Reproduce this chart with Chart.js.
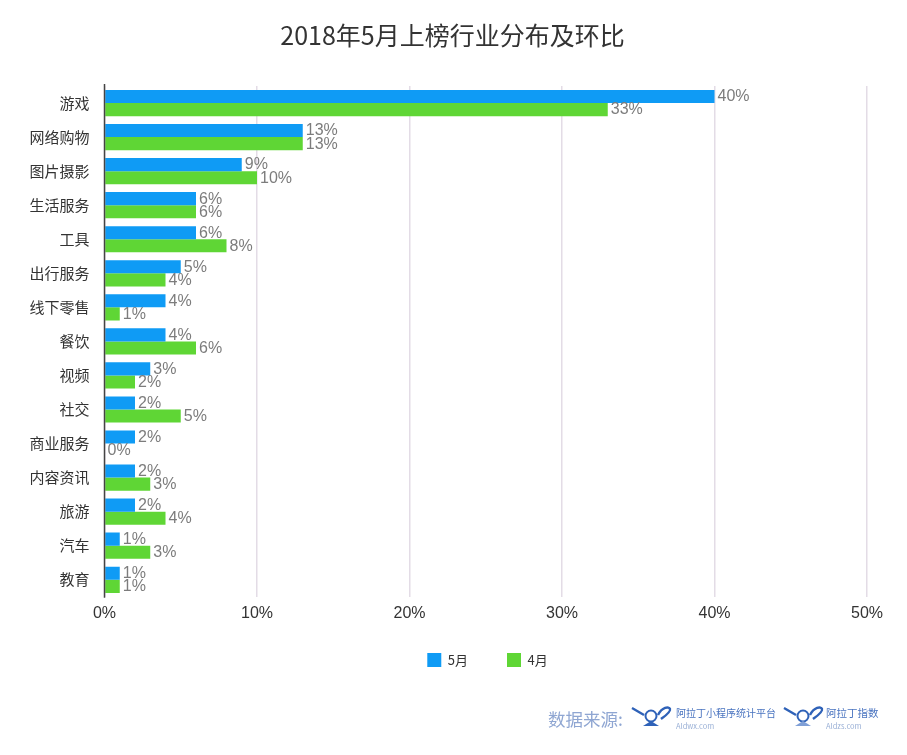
<!DOCTYPE html>
<html>
<head>
<meta charset="utf-8">
<script src="https://cdn.jsdelivr.net/npm/chart.js@4"></script>
<style>
  html, body { margin: 0; padding: 0; background: #fff; }
  #wrap { position: relative; width: 907px; height: 755px; overflow: hidden; }
  .src { position: absolute; font-family: "Noto Sans CJK SC", sans-serif; color: #5f82c4; white-space: nowrap; line-height: 1; }
  .logo { position: absolute; }
</style>
</head>
<body>
<div id="wrap">
  <canvas id="industryChart" width="907" height="755"></canvas>
  <div class="src" style="left:548px;top:710px;font-size:17.5px;color:#8fa6d2;">数据来源:</div>
  <svg class="logo" style="left:631px;top:703px;" width="42" height="26" viewBox="0 0 42 26"><path d="M1 5 L13 12 M27 12 C31 4 38 3 39 6 C40 9 34 13 30 16" stroke="#2f62b8" stroke-width="2.4" fill="none"/><circle cx="20" cy="13" r="5.5" stroke="#2f62b8" stroke-width="2" fill="none"/><path d="M12 23 H28 L20 18 Z" fill="#2f62b8"/></svg>
  <div class="src" style="left:676px;top:708px;font-size:10px;color:#4a74c0;">阿拉丁小程序统计平台</div>
  <div class="src" style="left:676px;top:722px;font-size:7.5px;color:#9ab0d6;">Aldwx.com</div>
  <svg class="logo" style="left:783px;top:703px;" width="42" height="26" viewBox="0 0 42 26"><path d="M1 5 L13 12 M27 12 C31 4 38 3 39 6 C40 9 34 13 30 16" stroke="#2f62b8" stroke-width="2.4" fill="none"/><circle cx="20" cy="13" r="5.5" stroke="#2f62b8" stroke-width="2" fill="none"/><path d="M12 23 H28 L20 18 Z" fill="#7f9fd6"/></svg>
  <div class="src" style="left:826px;top:708px;font-size:10.5px;color:#4a74c0;">阿拉丁指数</div>
  <div class="src" style="left:826px;top:722px;font-size:7.5px;color:#9ab0d6;">Aldzs.com</div>
</div>
<script>
const FONT = '"Noto Sans CJK SC", sans-serif';
const categories = ['游戏', '网络购物', '图片摄影', '生活服务', '工具', '出行服务', '线下零售', '餐饮', '视频', '社交', '商业服务', '内容资讯', '旅游', '汽车', '教育'];
const may = [40, 13, 9, 6, 6, 5, 4, 4, 3, 2, 2, 2, 2, 1, 1];
const april = [33, 13, 10, 6, 8, 4, 1, 6, 2, 5, 0, 3, 4, 3, 1];
const xTicks = [0, 10, 20, 30, 40, 50];

// value labels next to the bar ends, and the dark axis line on top of the bars
const barLabels = {
  id: 'barLabels',
  afterLayout(chart) {
    // title and legend are centred on the page, not on the padded chart box
    chart.titleBlock.left += 19;
    chart.titleBlock.right += 19;
    chart.legend.left += 54;
    chart.legend.right += 54;
    chart.legend.top = 614;
  },
  afterDatasetsDraw(chart) {
    const c = chart.ctx;
    const { left, top, bottom } = chart.chartArea;
    c.save();
    c.fillStyle = '#7c7c7c';
    c.font = '16px "Liberation Sans", sans-serif';
    c.textAlign = 'left';
    c.textBaseline = 'middle';
    chart.data.datasets.forEach((ds, i) => {
      chart.getDatasetMeta(i).data.forEach((bar, j) => {
        c.fillText(ds.data[j] + '%', bar.x + 3, bar.y + 0.5);
      });
    });
    c.strokeStyle = '#444';
    c.lineWidth = 1.5;
    c.beginPath();
    c.moveTo(left, top - 2);
    c.lineTo(left, bottom + 1);
    c.stroke();
    c.restore();
  }
};

new Chart(document.getElementById('industryChart').getContext('2d'), {
  type: 'bar',
  data: {
    labels: categories,
    datasets: [
      { label: '5月', data: may, backgroundColor: '#0f9bf5' },
      { label: '4月', data: april, backgroundColor: '#5fd635' }
    ]
  },
  plugins: [barLabels],
  options: {
    indexAxis: 'y',
    responsive: false,
    animation: false,
    layout: { padding: { left: 0, right: 40, top: 0, bottom: 62 } },
    datasets: { bar: { categoryPercentage: 0.77, barPercentage: 1 } },
    plugins: {
      title: {
        display: true,
        text: '2018年5月上榜行业分布及环比',
        color: '#333',
        font: { size: 25, weight: 'normal', family: FONT },
        padding: { top: 20, bottom: 36 }
      },
      legend: {
        position: 'bottom',
        labels: {
          boxWidth: 14,
          boxHeight: 14,
          padding: 39,
          color: '#333',
          font: { size: 13, family: FONT }
        }
      },
      tooltip: { enabled: false }
    },
    scales: {
      x: {
        min: 0,
        max: 50,
        afterBuildTicks(axis) { axis.ticks = xTicks.map(v => ({ value: v })); },
        grid: { color: '#e3dce6', lineWidth: 1.5, drawTicks: false },
        border: { display: false },
        ticks: {
          color: '#333',
          padding: 7,
          maxRotation: 0,
          font: { size: 16, family: '"Liberation Sans", sans-serif' },
          callback: v => v + '%'
        }
      },
      y: {
        grid: { display: false },
        border: { display: false },
        afterFit(scale) { scale.width = 104.5; },
        ticks: {
          color: '#333',
          padding: 7,
          autoSkip: false,
          font: { size: 15, family: FONT }
        }
      }
    }
  }
});
</script>
</body>
</html>
